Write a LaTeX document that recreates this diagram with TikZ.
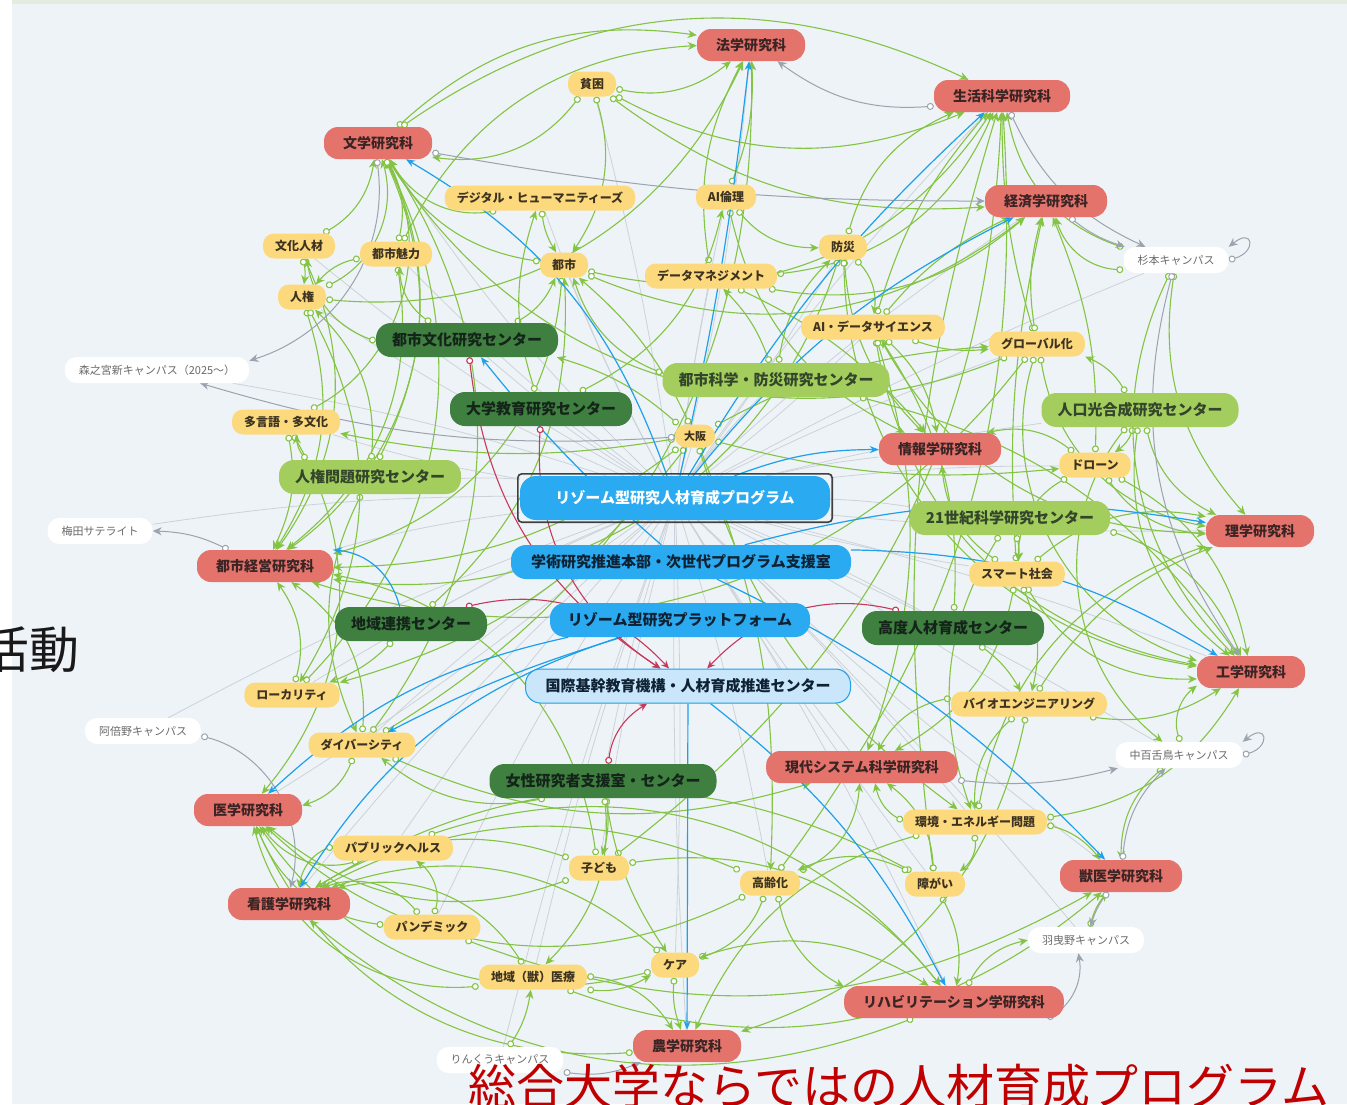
\documentclass[tikz,border=0pt]{standalone}
\usepackage{fontspec}
\newfontfamily\jp{Noto Sans CJK JP}
\usetikzlibrary{arrows.meta,backgrounds,fit}
\definecolor{bgC}{HTML}{EEF3F7}
\definecolor{topC}{HTML}{E4ECDF}
\definecolor{schF}{HTML}{E4736C}
\definecolor{schT}{HTML}{3A2424}
\definecolor{kwF}{HTML}{FDD97E}
\definecolor{kwT}{HTML}{3D3320}
\definecolor{clF}{HTML}{A3CE5E}
\definecolor{clT}{HTML}{33452A}
\definecolor{cdF}{HTML}{3F7F3F}
\definecolor{cdT}{HTML}{14241A}
\definecolor{hubF}{HTML}{2AAAF0}
\definecolor{hubT}{HTML}{0F2233}
\definecolor{hubLF}{HTML}{C9E6FA}
\definecolor{campT}{HTML}{6A6A6A}
\definecolor{gC}{HTML}{84C444}
\definecolor{bC}{HTML}{1EA0EA}
\definecolor{rC}{HTML}{C8385A}
\definecolor{gyC}{HTML}{9AA3AE}
\definecolor{fC}{HTML}{CDD2DA}
\definecolor{bigRed}{HTML}{C00000}
\tikzset{
  sch/.style={rectangle, rounded corners=14pt, fill=schF, minimum height=32pt, inner xsep=19pt, inner ysep=0pt, text=schT, font=\jp\bfseries\fontsize{14}{16}\selectfont},
  kw/.style={rectangle, rounded corners=11pt, fill=kwF, minimum height=25pt, inner xsep=12pt, inner ysep=0pt, text=kwT, font=\jp\bfseries\fontsize{12}{14}\selectfont},
  ctrL/.style={rectangle, rounded corners=15pt, fill=clF, minimum height=34pt, inner xsep=16pt, inner ysep=0pt, text=clT, font=\jp\bfseries\fontsize{15}{17}\selectfont},
  ctrD/.style={rectangle, rounded corners=15pt, fill=cdF, minimum height=34pt, inner xsep=16pt, inner ysep=0pt, text=cdT, font=\jp\bfseries\fontsize{15}{17}\selectfont},
  hub/.style={rectangle, rounded corners=15pt, fill=hubF, minimum height=34pt, inner xsep=16pt, inner ysep=0pt, text=hubT, font=\jp\bfseries\fontsize{15}{17}\selectfont},
  hubL/.style={hub, fill=hubLF, draw=bC, line width=1pt},
  camp/.style={rectangle, rounded corners=12pt, fill=white, minimum height=26pt, inner xsep=14pt, inner ysep=0pt, text=campT, font=\jp\fontsize{11}{13}\selectfont},
  gE/.style={draw=gC, line width=1.1pt, {Circle[length=7pt,fill=white]}-{Stealth[length=9pt,width=8pt]}},
  bE/.style={draw=bC, line width=1.2pt, -{Stealth[length=9pt,width=7pt]}},
  rE/.style={draw=rC, line width=1.1pt, {Circle[length=7pt,fill=white]}-{Stealth[length=8pt,width=7pt]}},
  gyE/.style={draw=gyC, line width=1pt, {Circle[length=7pt,fill=white]}-{Stealth[length=9pt,width=8pt]}},
  fE/.style={draw=fC, line width=0.8pt},
}
\begin{document}
\begin{tikzpicture}[x=1pt,y=-1pt]
\useasboundingbox (0,0) rectangle (1347,1104);
% schools
\node[sch] (hou) at (751,45) {法学研究科};
\node[sch] (seik) at (1002,96) {生活科学研究科};
\node[sch] (bun) at (378,143) {文学研究科};
\node[sch] (kei) at (1046,201) {経済学研究科};
\node[sch] (joh) at (940,449) {情報学研究科};
\node[sch] (ri) at (1260,531) {理学研究科};
\node[sch] (tk) at (265,566) {都市経営研究科};
\node[sch] (ko) at (1251,672) {工学研究科};
\node[sch] (gs) at (862,767) {現代システム科学研究科};
\node[sch] (ig) at (248,810) {医学研究科};
\node[sch] (ju) at (1121,876) {獣医学研究科};
\node[sch] (kg) at (289,904) {看護学研究科};
\node[sch] (rh) at (954,1002) {リハビリテーション学研究科};
\node[sch] (no) at (687,1046) {農学研究科};
% keywords
\node[kw] (hin) at (592,84) {貧困};
\node[kw] (dh) at (540,198) {デジタル・ヒューマニティーズ};
\node[kw] (aie) at (726,197) {AI倫理};
\node[kw] (bkj) at (299,246) {文化人材};
\node[kw] (tm) at (396,254) {都市魅力};
\node[kw] (toshi) at (564,265) {都市};
\node[kw] (bou) at (843,247) {防災};
\node[kw] (dm) at (711,276) {データマネジメント};
\node[kw] (jk) at (302,297) {人権};
\node[kw] (ads) at (873,327) {AI・データサイエンス};
\node[kw] (glo) at (1037,344) {グローバル化};
\node[kw] (tag) at (286,422) {多言語・多文化};
\node[kw, minimum height=23pt, inner xsep=9pt, font=\jp\bfseries\fontsize{11}{13}\selectfont] (osk) at (695,436) {大阪};
\node[kw] (dro) at (1095,465) {ドローン};
\node[kw] (sma) at (1017,574) {スマート社会};
\node[kw] (loc) at (292,695) {ローカリティ};
\node[kw] (bio) at (1029,704) {バイオエンジニアリング};
\node[kw] (div) at (362,745) {ダイバーシティ};
\node[kw] (kan) at (975,822) {環境・エネルギー問題};
\node[kw] (ph) at (393,848) {パブリックヘルス};
\node[kw] (kod) at (599,868) {子ども};
\node[kw] (kor) at (770,883) {高齢化};
\node[kw] (sho) at (935,884) {障がい};
\node[kw] (pan) at (432,927) {パンデミック};
\node[kw] (chi) at (533,977) {地域（獣）医療};
\node[kw] (care) at (675,965) {ケア};
% centers
\node[ctrL] (tsb) at (776,380) {都市科学・防災研究センター};
\node[ctrL] (jkg) at (1140,410) {人口光合成研究センター};
\node[ctrL] (jkm) at (370,477) {人権問題研究センター};
\node[ctrL] (c21) at (1010,518) {21世紀科学研究センター};
\node[ctrD] (tbk) at (467,340) {都市文化研究センター};
\node[ctrD] (dkk) at (541,409) {大学教育研究センター};
\node[ctrD] (crk) at (411,624) {地域連携センター};
\node[ctrD] (kjk) at (953,628) {高度人材育成センター};
\node[ctrD] (jos) at (603,781) {女性研究者支援室・センター};
% hubs
\node[hub, minimum width=310pt, minimum height=44pt, rounded corners=16pt, text=white] (prog) at (675,498) {リゾーム型研究人材育成プログラム};
\node[draw=black!75, line width=1.6pt, rounded corners=4pt, inner sep=2pt, fit=(prog)] (sel) {};
\node[hub, minimum width=340pt] (gaku) at (681,562) {学術研究推進本部・次世代プログラム支援室};
\node[hub, minimum width=260pt] (plat) at (680,620) {リゾーム型研究プラットフォーム};
\node[hubL, minimum width=325pt] (koku) at (688,686) {国際基幹教育機構・人材育成推進センター};
% campuses
\node[camp] (sugi) at (1176,260) {杉本キャンパス};
\node[camp] (mori) at (157,370) {森之宮新キャンパス（2025〜）};
\node[camp] (ume) at (100,531) {梅田サテライト};
\node[camp] (abe) at (143,731) {阿倍野キャンパス};
\node[camp] (naka) at (1179,755) {中百舌鳥キャンパス};
\node[camp] (habi) at (1086,940) {羽曳野キャンパス};
\node[camp] (rin) at (500,1060) {りんくうキャンパス};
% overlay texts
\node[anchor=base east, inner sep=0pt, text=black!90, font=\jp\fontsize{50}{52}\selectfont] (katsu) at (80,668) {活動};
\node[anchor=base west, inner sep=0pt, text=bigRed, font=\jp\fontsize{48}{50}\selectfont] (title) at (468,1104) {総合大学ならではの人材育成プログラム};

\begin{pgfonlayer}{background}
\fill[bgC] (0,0) rectangle (1347,1104);
\fill[white] (0,0) rectangle (12,1104);
\fill[topC] (12,0) rectangle (1347,4);
% faint parent lines
\foreach \n/\bd in {hou/-4,seik/4,bun/6,kei/4,joh/3,ri/-3,tk/-4,ko/3,gs/-3,ig/4,ju/-3,kg/-4,rh/3,no/-2,
  hin/-3,dh/4,aie/2,bkj/5,tm/4,toshi/3,bou/-3,dm/2,jk/5,ads/-3,glo/3,tag/4,osk/0,dro/3,sma/-3,loc/-4,bio/3,div/-4,kan/3,ph/-4,kod/-3,kor/3,sho/-3,pan/-4,chi/-3,care/2,
  tsb/3,jkg/3,jkm/-3,c21/3,tbk/3,dkk/2,crk/-3,kjk/3,jos/-3,sugi/3,mori/-4,ume/-4,abe/-4,naka/3,habi/3,rin/-3}
  \draw[fE] (prog) to[bend left=\bd] (\n);
% green links
\foreach \a/\b/\bd in {
  bkj/bun/-25, tm/bun/-20, dh/bun/35, jk/bun/-40, tag/bun/-45, hin/bun/30, toshi/bun/25, div/bun/-35, glo/bun/40, loc/bun/-35, jkm/bun/-25,
  hin/hou/-25, aie/hou/-12, jk/hou/-35, dm/hou/18, div/hou/-30, bun/hou/25, tm/hou/30,
  bou/seik/25, ads/seik/12, glo/seik/8, kod/seik/-25, kor/seik/-20, dm/seik/-30, toshi/seik/-35, sho/seik/12, hin/seik/-25, bun/seik/30,
  ads/kei/12, glo/kei/12, dm/kei/-25, toshi/kei/-30, dro/kei/-12, sma/kei/8, hin/kei/-20,
  ads/joh/18, aie/joh/-25, dm/joh/12, dro/joh/-25, sma/joh/25, bou/joh/-20,
  ads/ri/-30, dro/ri/-25, sma/ri/25, kan/ri/30, bio/ri/18, jkg/ri/-25, glo/ri/-35,
  bio/ko/-20, kan/ko/-25, dro/ko/25, sma/ko/-30, ads/ko/-35, bou/ko/-40, jkg/ko/-30, c21/ko/25, tsb/ko/20, glo/ko/-45,
  kan/gs/25, sho/gs/-25, kor/gs/-30, ads/gs/18, sma/gs/25, div/gs/-20, bio/gs/-25,
  ph/ig/35, pan/ig/30, div/ig/25, kor/ig/35, chi/ig/40, care/ig/35, kod/ig/30, tag/ig/35, no/ig/35,
  ph/kg/-30, pan/kg/-35, chi/kg/-35, care/kg/-30, kor/kg/-25, kod/kg/-25, sho/kg/-30, rh/kg/30,
  pan/ju/-25, kan/ju/18, chi/ju/-30,
  sho/rh/18, kor/rh/-25, care/rh/25, kod/rh/30, ph/rh/35,
  kan/no/-25, bio/no/30, chi/no/25, care/no/-12,
  toshi/tk/35, tm/tk/30, loc/tk/-25, tag/tk/18, jk/tk/25, div/tk/-30, glo/tk/35, bou/tk/40, kod/tk/-35, bun/tk/40, bkj/tk/30,
  tbk/toshi/-18, tbk/tm/25, tbk/bkj/30, tsb/bou/18, tsb/toshi/25, tsb/dm/-12, jkm/jk/-25, jkm/div/-25, jkm/tag/18, jk/loc/30,
  c21/sma/12, c21/kan/-25, jkg/dro/18, jkg/glo/-18, dkk/dh/18, dkk/aie/-25, crk/loc/12, crk/toshi/-25,
  kjk/bio/12, kjk/ads/-18, jos/kod/12, jos/div/25, jos/care/-12, jos/chi/25,
  bkj/jk/12, tm/jk/-18, dh/toshi/-12, hin/toshi/25, aie/bou/-25, osk/tk/18, osk/tbk/-12, osk/glo/12, osk/toshi/-12,
  osk/loc/18, osk/kor/12, osk/kan/-18, osk/dro/-10, osk/tag/10,
  sugi/seik/30, sugi/kei/35, sugi/ri/-25, sugi/ko/-35, naka/ko/35, naka/ju/-25, habi/ju/12, rh/habi/25, rin/chi/-12, jkg/naka/-45,
  pan/ph/-35, chi/care/-18, kor/care/25, sho/kor/-25, kan/sho/30, bio/kan/-25, sma/bio/18, dro/sma/-30, ads/glo/-12, bou/ads/25}
  \draw[gE] (\a) to[bend left=\bd] (\b);
% gray campus links
\foreach \a/\b/\bd in {bun/mori/40, tk/ume/-12, abe/kg/45, seik/sugi/-20, kei/sugi/-10, osk/mori/10, bun/kei/-5, gs/naka/-10, ju/naka/20, rh/habi/-35, seik/hou/20, sugi/ko/-25, ju/habi/-10, rin/no/-15}
  \draw[gyE] (\a) to[bend left=\bd] (\b);
\draw[gyE] (sugi.east) .. controls +(28,-8) and +(25,-20) .. (sugi.north east);
\draw[gyE] (naka.east) .. controls +(28,-8) and +(25,-20) .. (naka.north east);
% blue links
\foreach \a/\b/\bd in {prog/hou/-3, prog/bun/-20, prog/seik/8, prog/kei/12, prog/joh/10, gaku/ri/12, gaku/ko/15, crk/tk/-35,
  plat/ig/-15, plat/kg/-20, koku/no/0, koku/rh/12, gaku/ju/10, gaku/tbk/5, plat/div/-5}
  \draw[bE] (\a) to[bend left=\bd] (\b);
% crimson links
\foreach \a/\b/\bd in {dkk/koku/-30, crk/koku/30, kjk/koku/-30, jos/koku/25, tbk/koku/-25}
  \draw[rE] (\a) to[bend left=\bd] (\b);
\end{pgfonlayer}
\end{tikzpicture}
\end{document}
